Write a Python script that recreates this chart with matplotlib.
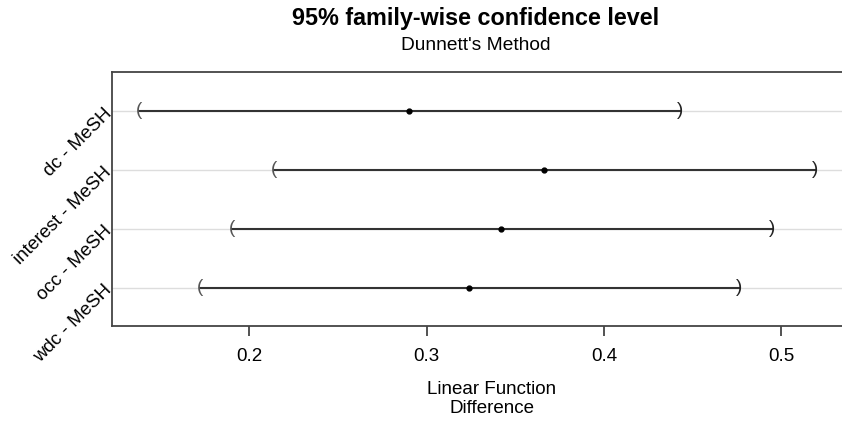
import matplotlib
matplotlib.use('Agg')
import matplotlib.pyplot as plt

plt.rcParams['font.family'] = ['Liberation Sans', 'DejaVu Sans']

# Dunnett comparisons vs MeSH
comparisons = ['dc - MeSH', 'interest - MeSH', 'occ - MeSH', 'wdc - MeSH']
estimate = [0.290, 0.366, 0.342, 0.324]
lower = [0.138, 0.214, 0.190, 0.172]
upper = [0.443, 0.519, 0.495, 0.476]
xticks = [0.2, 0.3, 0.4, 0.5]

fig = plt.figure(figsize=(8.42, 4.26), dpi=100)
ax = fig.add_axes([112 / 842, 100 / 426, 740 / 842, 254 / 426])

ypos = list(range(len(comparisons), 0, -1))
for y in ypos:
    ax.axhline(y, color='#dddddd', lw=1, zorder=0)

for y, lo, est, hi in zip(ypos, lower, estimate, upper):
    ax.plot([lo, hi], [y, y], color='#333333', lw=1.5, zorder=2)
    ax.plot(est, y, 'o', color='black', ms=3.5, zorder=3)
    ax.text(lo, y, '(', ha='center', va='center', fontsize=13.5, color='#555555')
    ax.text(hi, y, ')', ha='center', va='center', fontsize=13.5, color='#222222')

ax.set_xlim(0.1225, 0.1225 + 740 / 1773)
ax.set_ylim(0.35, 4.66)
ax.set_xticks(xticks)
ax.set_xticklabels([str(t) for t in xticks], fontsize=13.5)
ax.set_yticks(ypos)
ax.set_yticklabels(comparisons, rotation=45, ha='right', va='center', fontsize=13.5,
                   rotation_mode='anchor')
ax.tick_params(axis='y', length=0, pad=2)
ax.tick_params(axis='x', length=7, width=1.3, color='#444444', pad=9)
for s in ax.spines.values():
    s.set_color('#444444')
    s.set_linewidth(1.3)

fig.text(476 / 842, 1 - 19 / 426, '95% family-wise confidence level',
         ha='center', va='center', fontsize=16.8, fontweight='bold')
fig.text(476 / 842, 1 - 46 / 426, "Dunnett's Method", ha='center', va='center', fontsize=13.8)
fig.text(492 / 842, 1 - 399 / 426, 'Linear Function\nDifference', ha='center', va='center',
         fontsize=13.5, linespacing=1.2)

fig.savefig('out.png', dpi=100)
